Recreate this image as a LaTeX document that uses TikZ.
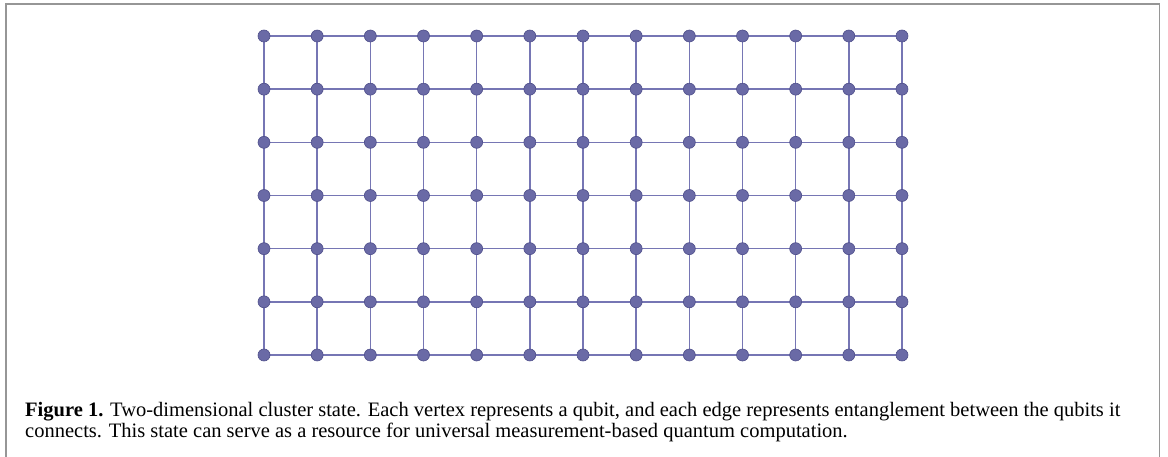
\documentclass[tikz,border=0pt]{standalone}
\usepackage{fontspec}
\setmainfont{Liberation Serif}
\definecolor{qfill}{RGB}{106,106,166}
\definecolor{qdraw}{RGB}{78,78,138}
\definecolor{qedge}{RGB}{118,118,180}
\definecolor{framegray}{RGB}{150,150,150}
\tikzset{
  qubit/.style={circle, fill=qfill, draw=qdraw, line width=0.6pt, minimum size=12pt, inner sep=0pt},
  bond/.style={draw=qedge, line width=1.5pt},
  capline/.style={anchor=base west, inner sep=0pt, font=\fontsize{20.5}{24}\selectfont},
}
\begin{document}
\begin{tikzpicture}[x=1pt,y=-1pt]
\useasboundingbox (0,0) rectangle (1168,457);
\draw[framegray, line width=1.5pt] (6,457) -- (6,4) -- (1159.5,4) -- (1159.5,457);
\foreach \i in {0,...,12}{
  \foreach \j in {0,...,6}{
    \coordinate (c-\i-\j) at ({264+53.1667*\i},{36+53.1667*\j});
  }
}
% edges
\foreach \i in {0,...,12}{
  \foreach \j [evaluate=\j as \jn using int(\j+1)] in {0,...,5}{
    \path[bond] (c-\i-\j) -- (c-\i-\jn);
  }
}
\foreach \j in {0,...,6}{
  \foreach \i [evaluate=\i as \in using int(\i+1)] in {0,...,11}{
    \path[bond] (c-\i-\j) -- (c-\in-\j);
  }
}
\foreach \i in {0,...,12}{
  \foreach \j in {0,...,6}{
    \node[qubit] (n-\i-\j) at (c-\i-\j) {};
  }
}
\node[capline] (cap1) at (25,416.5) {\textbf{Figure 1.} Two-dimensional cluster state. Each vertex represents a qubit, and each edge represents entanglement between the qubits it};
\node[capline] (cap2) at (25,437.2) {connects. This state can serve as a resource for universal measurement-based quantum computation.};
\end{tikzpicture}
\end{document}
